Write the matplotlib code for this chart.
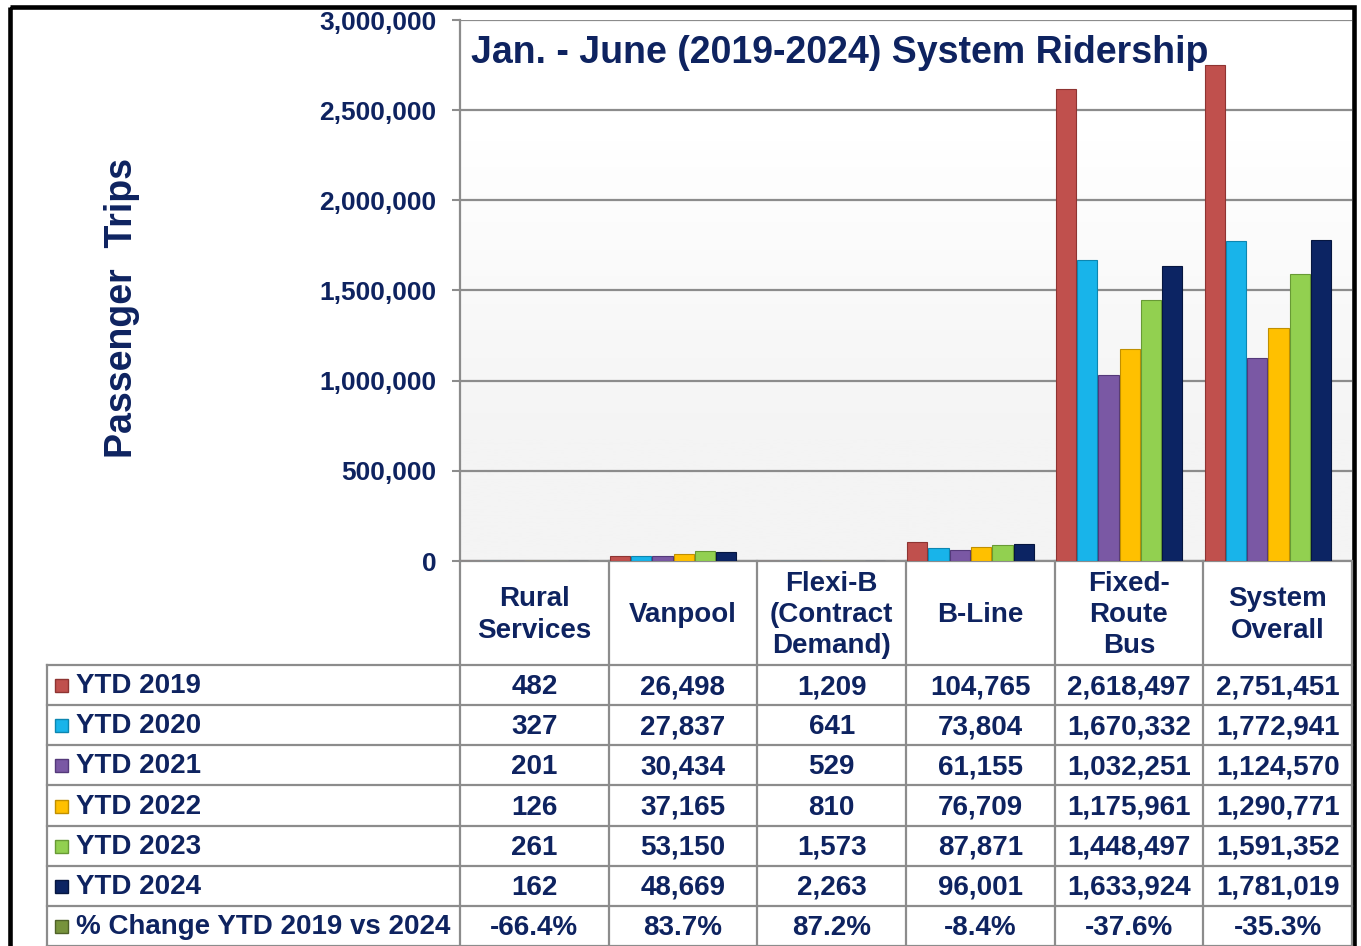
import numpy as np
import matplotlib
matplotlib.use("Agg")
import matplotlib.pyplot as plt
from matplotlib.patches import Rectangle
from matplotlib.ticker import FuncFormatter

plt.rcParams['font.family'] = ['Liberation Sans', 'DejaVu Sans']
plt.rcParams['font.weight'] = 'bold'

# data
categories = ["Rural\nServices", "Vanpool", "Flexi-B\n(Contract\nDemand)",
              "B-Line", "Fixed-\nRoute\nBus", "System\nOverall"]
series_names = ["YTD 2019", "YTD 2020", "YTD 2021", "YTD 2022", "YTD 2023", "YTD 2024"]
ytd_2019 = [482, 26498, 1209, 104765, 2618497, 2751451]
ytd_2020 = [327, 27837, 641, 73804, 1670332, 1772941]
ytd_2021 = [201, 30434, 529, 61155, 1032251, 1124570]
ytd_2022 = [126, 37165, 810, 76709, 1175961, 1290771]
ytd_2023 = [261, 53150, 1573, 87871, 1448497, 1591352]
ytd_2024 = [162, 48669, 2263, 96001, 1633924, 1781019]
series = [ytd_2019, ytd_2020, ytd_2021, ytd_2022, ytd_2023, ytd_2024]
colors = ["#C0504D", "#18B4EA", "#7A58A4", "#FFC000", "#92D050", "#0C2463"]
edge_colors = ["#8E3432", "#0C86B0", "#54397A", "#C08F00", "#689A35", "#061640"]
pct_name = "% Change YTD 2019 vs 2024"
pct_color = "#77933C"

navy = "#0E2360"
grid_gray = "#8C8C8C"

W, H = 1361, 946
fig = plt.figure(figsize=(W / 100, H / 100), dpi=100)


def px_rect(x0, y0, x1, y1):
    return [x0 / W, 1 - y1 / H, (x1 - x0) / W, (y1 - y0) / H]


# layout in pixels
ax_x0, ax_x1 = 460, 1352
ax_y0, ax_y1 = 20, 561
n = len(categories)
cat_w = (ax_x1 - ax_x0) / n
col_x = [ax_x0 + i * cat_w for i in range(n + 1)]
tbl_left = 47
row_top = 665
row_h = (946 - 665) / 7

ax = fig.add_axes(px_rect(ax_x0, ax_y0, ax_x1, ax_y1))
ax.set_facecolor("white")
# faint gradient background, only near the floor
grad = np.clip(np.linspace(1.4, -0.4, 256), 0, 1).reshape(-1, 1)
ax.imshow(grad, extent=(-0.5, n - 0.5, 0, 3000000), aspect='auto',
          cmap=matplotlib.colors.LinearSegmentedColormap.from_list("bg", ["#F4F4F4", "#FFFFFF"]),
          vmin=0, vmax=1, zorder=0, origin='upper')

x = np.arange(n)
step = 0.1433
for j, (vals, c, ec) in enumerate(zip(series, colors, edge_colors)):
    ax.bar(x - 0.5 + 0.008 + j * step, vals, width=step - 0.008, align='edge',
           color=c, edgecolor=ec, linewidth=0.8, zorder=3)

ax.set_xlim(-0.5, n - 0.5)
ax.set_ylim(0, 3000000)
ax.set_yticks(np.arange(0, 3000001, 500000))
ax.yaxis.set_major_formatter(FuncFormatter(lambda v, p: f"{int(v):,}"))
ax.set_xticks([])
ax.grid(axis='y', color=grid_gray, linewidth=1.6, zorder=1)
ax.set_axisbelow(True)
for s in ["top", "right"]:
    ax.spines[s].set_visible(False)
for s in ["left", "bottom"]:
    ax.spines[s].set_color(grid_gray)
    ax.spines[s].set_linewidth(1.6)
ax.tick_params(axis='y', length=6, width=1.5, color=grid_gray, pad=11,
               labelsize=19, labelcolor=navy)
for lbl in ax.get_yticklabels():
    lbl.set_fontweight('bold')

fig.text(471 / W, 1 - 53 / H, "Jan. - June (2019-2024) System Ridership",
         ha='left', va='center', fontsize=27, fontweight='bold', color=navy)
fig.text(122 / W, 1 - 308 / H, "Passenger  Trips", rotation=90,
         ha='center', va='center', fontsize=27, fontweight='bold', color=navy)

# data table drawn in pixel coordinates
tax = fig.add_axes([0, 0, 1, 1])
tax.set_xlim(0, W)
tax.set_ylim(H, 0)
tax.axis('off')

bottom = row_top + 7 * row_h
for cx in col_x:
    tax.plot([cx, cx], [ax_y1, bottom], color=grid_gray, lw=1.6)
tax.plot([tbl_left, tbl_left], [row_top, bottom], color=grid_gray, lw=1.6)
for k in range(8):
    yy = row_top + k * row_h
    tax.plot([tbl_left, ax_x1], [yy, yy], color=grid_gray, lw=1.6)

for i, cat in enumerate(categories):
    tax.text((col_x[i] + col_x[i + 1]) / 2, (ax_y1 + row_top) / 2 + 2, cat,
             ha='center', va='center', fontsize=20, fontweight='bold',
             color=navy, linespacing=1.27)

pct = [(b - a) / a * 100 for a, b in zip(ytd_2019, ytd_2024)]
rows = [(name, c, ec, [f"{v:,}" for v in vals])
        for name, c, ec, vals in zip(series_names, colors, edge_colors, series)]
rows.append((pct_name, pct_color, "#4F6228", [f"{p:.1f}%" for p in pct]))

for k, (name, c, ec, cells) in enumerate(rows):
    cy = row_top + (k + 0.5) * row_h
    tax.add_patch(Rectangle((55, cy - 6), 13, 13, facecolor=c, edgecolor=ec, lw=1))
    tax.text(76, cy + 1, name, ha='left', va='center', fontsize=20,
             fontweight='bold', color=navy)
    for i, s in enumerate(cells):
        tax.text((col_x[i] + col_x[i + 1]) / 2, cy + 2, s, ha='center',
                 va='center', fontsize=20, fontweight='bold', color=navy)

# outer black frame
tax.add_patch(Rectangle((10.5, 7), 1354 - 10.5, 960, fill=False,
                        edgecolor='black', lw=3.3, clip_on=False))

fig.savefig("out.png", dpi=100)
